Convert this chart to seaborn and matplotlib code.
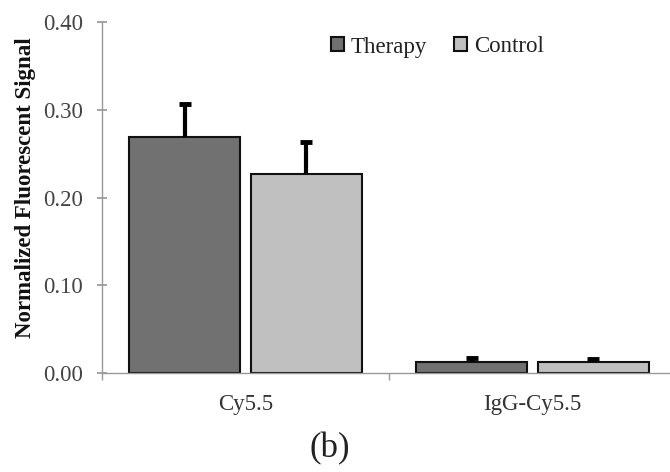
import matplotlib
matplotlib.use("Agg")
import matplotlib.pyplot as plt
import seaborn as sns
import pandas as pd
import numpy as np

categories = ["Cy5.5", "IgG-Cy5.5"]
groups = ["Therapy", "Control"]
therapy_vals = [0.269, 0.013]
control_vals = [0.227, 0.013]
therapy_err = [0.038, 0.004]
control_err = [0.036, 0.003]
yticks = [0.00, 0.10, 0.20, 0.30, 0.40]

sns.set_theme(style="white")
plt.rcParams['font.family'] = ['Liberation Serif', 'DejaVu Serif']

df = pd.DataFrame({
    "cat": categories * 2,
    "grp": [groups[0]] * 2 + [groups[1]] * 2,
    "val": therapy_vals + control_vals,
})
errs = therapy_err + control_err

W, H = 670, 472
fig = plt.figure(figsize=(6.7, 4.72), dpi=100)
ax = fig.add_axes([102 / W, 1 - 373 / H, 574 / W, (373 - 22) / H])

sns.barplot(data=df, x="cat", y="val", hue="grp", order=categories, hue_order=groups,
            palette=["#717171", "#c0c0c0"], edgecolor="#111111", linewidth=1.5,
            width=0.846, gap=0.085, errorbar=None, ax=ax, legend=True)

bars = [p for p in ax.patches if p.get_height() > 0 and p.get_width() > 0.2]
bars = sorted(bars, key=lambda p: (p.get_facecolor()[0] > 0.6, p.get_x()))
for p, e in zip(bars, errs):
    xc = p.get_x() + p.get_width() / 2
    top = p.get_height() + e
    ax.vlines(xc, p.get_height(), top, color="black", linewidth=3.0, zorder=5)
    ax.plot([xc], [top], marker="_", markersize=8, markeredgewidth=3.5,
            color="black", zorder=6)

ax.set_xlim(-0.5, 1.5)
ax.set_ylim(0, 0.40)
ax.set_yticks(yticks)
ax.set_yticklabels([f"{v:.2f}" for v in yticks])
ax.set_xticks([0, 1])
ax.set_xticklabels(categories)
ax.set_xticks([-0.5, 0.5, 1.5], minor=True)
ax.tick_params(axis="x", which="major", length=0, labelsize=16.5, labelcolor="#333333", pad=15)
ax.tick_params(axis="x", which="minor", length=5, color="#999999", direction="out", bottom=True)
ax.tick_params(axis="y", length=7, color="#999999", direction="inout", left=True, labelsize=16.5,
               labelcolor="#444444", pad=10)
ax.set_xlabel("")
ax.set_ylabel("Normalized Fluorescent Signal", fontsize=16.5, fontweight="bold",
              color="#111111")
ax.yaxis.set_label_coords(-(102 - 36) / 574, (373 - 188) / 351, transform=ax.transAxes)

for s in ["top", "right"]:
    ax.spines[s].set_visible(False)
for s in ["left", "bottom"]:
    ax.spines[s].set_color("#999999")
    ax.spines[s].set_linewidth(1.0)

leg = ax.legend(loc="center left", bbox_to_anchor=(331 / W, 1 - 47 / H),
                bbox_transform=fig.transFigure, ncol=2, frameon=False,
                fontsize=16.5, handlelength=0.55, handleheight=0.55, handletextpad=0.3,
                columnspacing=1.2, borderpad=0, borderaxespad=0)
for h in leg.legend_handles:
    h.set_edgecolor("#111111")
    h.set_linewidth(1.5)
for t in leg.get_texts():
    t.set_color("#222222")

fig.text(330 / W, 1 - 449 / H, "(b)", fontsize=25, ha="center", va="center", color="#222222")

fig.savefig("out.png", dpi=100)
